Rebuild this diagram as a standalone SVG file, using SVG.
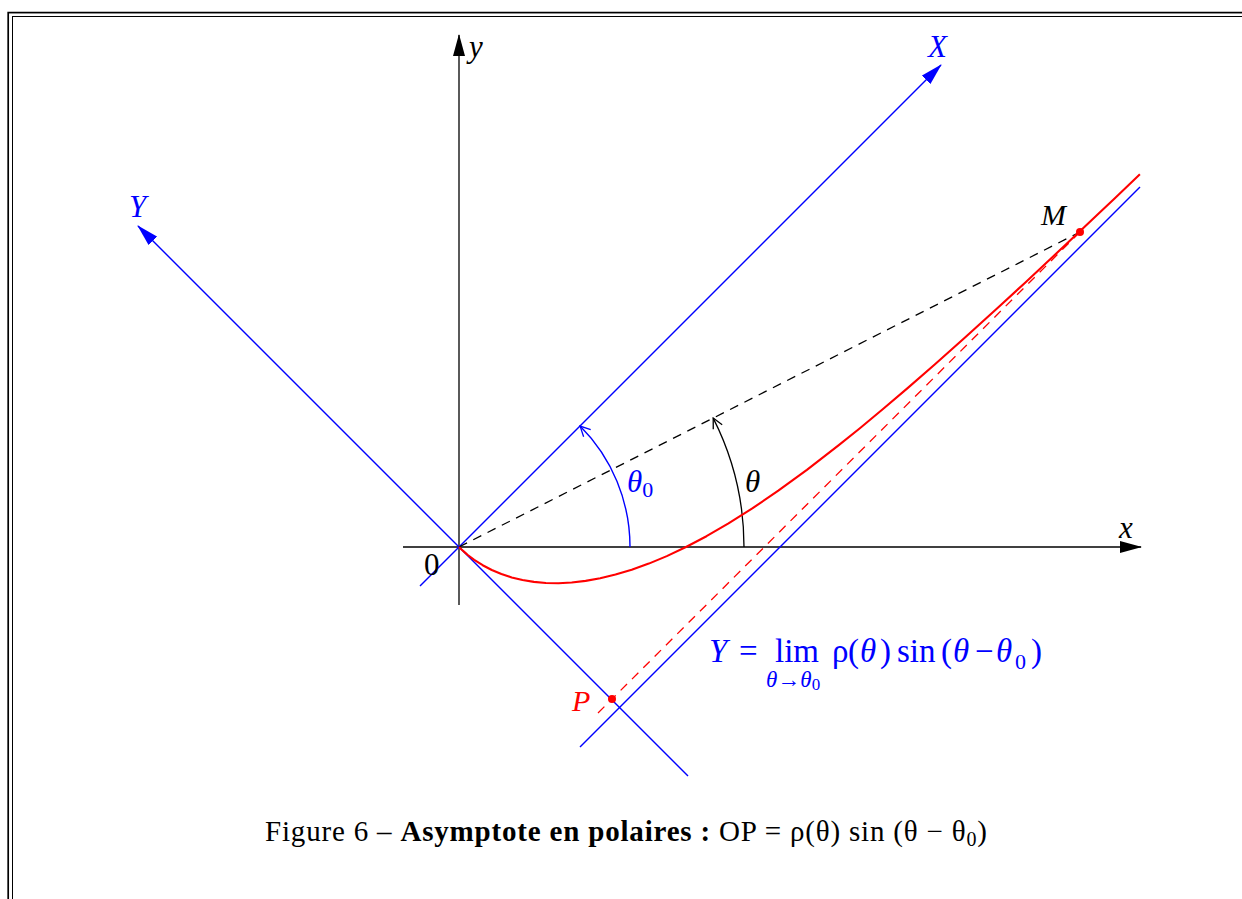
<svg xmlns="http://www.w3.org/2000/svg" width="1242" height="899" viewBox="0 0 1242 899">
<style>
.ax{stroke:#000;stroke-width:1.3;fill:none}
.bl{stroke:#0000ff;stroke-width:1.4;fill:none}
.t{font-family:"Liberation Serif","DejaVu Serif",serif}
.i{font-style:italic}
.b{fill:#0000ff}
.r{fill:#ff0000}
</style>
<defs>
<marker id="ak" viewBox="0 0 22 12" refX="21" refY="6" markerUnits="userSpaceOnUse" markerWidth="22" markerHeight="12" orient="auto"><path d="M0,0 L22,6 L0,12 Z" fill="#000"/></marker>
<marker id="ab" viewBox="0 0 22 12" refX="21" refY="6" markerUnits="userSpaceOnUse" markerWidth="22" markerHeight="12" orient="auto"><path d="M0,0 L22,6 L0,12 Z" fill="#0000ff"/></marker>
<marker id="ob" viewBox="0 0 12 12" refX="11" refY="6" markerUnits="userSpaceOnUse" markerWidth="12" markerHeight="12" orient="auto"><path d="M1,1 L11,6 L1,11" fill="none" stroke="#0000ff" stroke-width="1.3"/></marker>
<marker id="ok" viewBox="0 0 12 12" refX="11" refY="6" markerUnits="userSpaceOnUse" markerWidth="12" markerHeight="12" orient="auto"><path d="M1,1 L11,6 L1,11" fill="none" stroke="#000" stroke-width="1.3"/></marker>
</defs>
<rect width="1242" height="899" fill="#fff"/>
<g id="frame" fill="none" stroke="#000">
<rect x="8.2" y="12.6" width="1300" height="1000" stroke-width="1.7"/>
<rect x="12.5" y="16.5" width="1300" height="1000" stroke-width="1"/>
</g>
<g id="connectors">
<line id="x-axis" class="ax" x1="403" y1="547" x2="1141" y2="547" marker-end="url(#ak)"/>
<line id="y-axis" class="ax" x1="459" y1="605" x2="459" y2="35" marker-end="url(#ak)"/>
<line id="X-axis" class="bl" x1="420" y1="586" x2="941" y2="65" marker-end="url(#ab)"/>
<line id="Y-axis" class="bl" x1="688" y1="776" x2="138" y2="226" marker-end="url(#ab)"/>
<line id="asymptote" class="bl" x1="580" y1="747" x2="1140" y2="187"/>
<line id="OM" x1="459" y1="547" x2="1080" y2="232" stroke="#000" stroke-width="1.3" stroke-dasharray="9,7"/>
<line id="PM" x1="598" y1="713" x2="1080" y2="232" stroke="#ff0000" stroke-width="1.3" stroke-dasharray="9,7"/>
<path id="arc-theta0" d="M630,547 A171,171 0 0 0 580.1,426.1" class="bl" stroke-width="1.3" marker-end="url(#ob)"/>
<path id="arc-theta" d="M744,547 A285,285 0 0 0 713.2,418.1" class="ax" stroke-width="1.2" marker-end="url(#ok)"/>
<polyline id="curve" fill="none" stroke="#ff0000" stroke-width="2.1" stroke-linejoin="round" points="459,547 461.85,549.75 464.8,552.4 467.8,555.0 474.2,559.8 482.7,565.2 491.8,570.0 501.4,574.0 511.7,577.4 522.5,580.0 533.9,581.9 545.9,583.0 558.5,583.2 571.7,582.5 585.6,580.9 600.2,578.3 615.5,574.6 631.7,569.7 648.8,563.6 666.8,556.1 686,547 706.5,536.2 728.5,523.4 752.3,508.4 778.3,490.7 806.9,469.9 838.8,445.2 859.9,428.3 882.7,409.3 907.6,388.1 935.0,364.3 965.3,337.3 999.2,306.5 1024.3,283.4 1051.5,258.0 1066.1,244.3 1081.5,229.8 1097.6,214.6 1114.6,198.4 1139.9,174.2"/>
</g>
<g id="node-M"><circle cx="1080" cy="232" r="4" fill="#ff0000"/><text class="t i" x="1041" y="225" font-size="30">M</text></g>
<g id="node-P"><circle cx="612" cy="699" r="4" fill="#ff0000"/><text class="t i r" x="572" y="711" font-size="30">P</text></g>
<g id="node-O"><text class="t" x="424" y="575" font-size="31">0</text></g>
<g id="label-x"><text class="t i" x="1119" y="538" font-size="31">x</text></g>
<g id="label-y"><text class="t i" x="469" y="57" font-size="31">y</text></g>
<g id="label-X"><text class="t i b" x="928" y="57" font-size="31">X</text></g>
<g id="label-Y"><text class="t i b" x="129" y="217" font-size="31">Y</text></g>
<g id="label-theta0"><text class="t i b" x="627" y="492" font-size="31">θ<tspan font-style="normal" font-size="22" dy="5">0</tspan></text></g>
<g id="label-theta"><text class="t i" x="745" y="492" font-size="31">θ</text></g>
<g id="formula" class="t b" font-size="33">
<text class="i" x="709" y="662">Y</text>
<text x="739" y="662">=</text>
<text x="775" y="662">lim</text>
<text x="766" y="687" font-size="23"><tspan font-style="italic">θ</tspan>→<tspan font-style="italic">θ</tspan><tspan font-size="17" dy="3">0</tspan></text>
<text x="832" y="662">ρ</text>
<text x="848" y="662">(</text>
<text class="i" x="860" y="662">θ</text>
<text x="880" y="662">)</text>
<text x="897" y="662">sin</text>
<text x="941" y="662">(</text>
<text class="i" x="953" y="662">θ</text>
<text x="975" y="662">−</text>
<text class="i" x="996" y="662">θ</text>
<text x="1015" y="669" font-size="22">0</text>
<text x="1031" y="662">)</text>
</g>
<g id="caption"><text class="t" x="265" y="841" font-size="29" textLength="722" lengthAdjust="spacing">Figure 6 – <tspan font-weight="bold">Asymptote en polaires :</tspan> OP = ρ(θ) sin (θ − θ<tspan font-size="20" dy="5">0</tspan><tspan dy="-5">)</tspan></text></g>
</svg>
